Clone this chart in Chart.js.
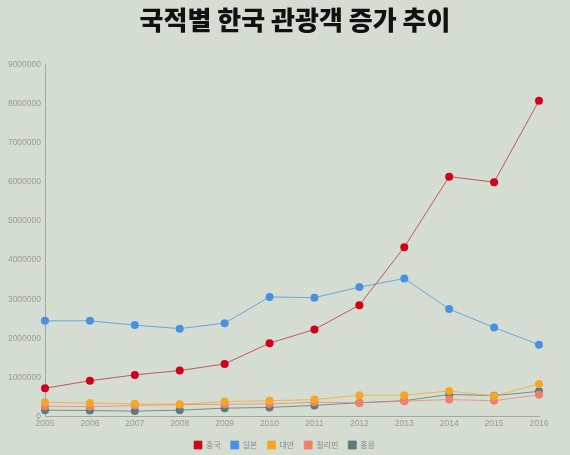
<!DOCTYPE html>
<html>
<head>
<meta charset="utf-8">
<script src="https://cdn.jsdelivr.net/npm/chart.js@4/dist/chart.umd.min.js"></script>
<style>
    html, body { margin: 0; padding: 0; background: #d5ddd2; }
    #wrap { width: 570px; height: 455px; position: relative; }
</style>
</head>
<body>
<div id="wrap"><canvas id="tourChart" width="570" height="455"></canvas></div>
<script>
const years = ['2005','2006','2007','2008','2009','2010','2011','2012','2013','2014','2015','2016']

const china = [730000, 920000, 1070000, 1180000, 1350000, 1880000, 2230000, 2850000, 4330000, 6130000, 5990000, 8070000]
const japan = [2450000, 2450000, 2340000, 2250000, 2390000, 3060000, 3040000, 3310000, 3530000, 2750000, 2280000, 1840000]
const taiwan = [370000, 350000, 330000, 320000, 390000, 410000, 440000, 550000, 550000, 660000, 530000, 840000]
const philippines = [270000, 260000, 290000, 310000, 320000, 330000, 370000, 360000, 400000, 440000, 410000, 560000]
const hongkong = [170000, 160000, 145000, 170000, 220000, 240000, 290000, 360000, 410000, 570000, 540000, 650000]

const yTicks = [0, 1000000, 2000000, 3000000, 4000000, 5000000, 6000000, 7000000, 8000000, 9000000]

const series = [
    { label: '중국', data: china, color: '#d0021b', line: 'rgba(190, 40, 50, 0.75)' },
    { label: '일본', data: japan, color: '#4a90e2', line: 'rgba(74, 144, 226, 0.75)' },
    { label: '대만', data: taiwan, color: '#f5a623', line: 'rgba(245, 166, 35, 0.75)' },
    { label: '필리핀', data: philippines, color: '#f27f6c', line: 'rgba(242, 127, 108, 0.75)' },
    { label: '홍콩', data: hongkong, color: '#5e7b7b', line: 'rgba(94, 123, 123, 0.8)' }
]

const dashBorder = { display: true, color: '#a3a9a1', dash: [2, 3], width: 1 }
const tickFont = { family: 'Arial, "Liberation Sans"', size: 8.5 }

// title and legend sit right of the plot centre in the original
const shiftBlocks = {
    id: 'shiftBlocks',
    afterLayout(chart) {
        if (chart.titleBlock) chart.titleBlock.left += 51
        if (chart.legend) chart.legend.left += 30
    }
}

new Chart(document.getElementById('tourChart'), {
    type: 'line',
    data: {
        labels: years,
        datasets: series.map(s => ({
            label: s.label,
            data: s.data,
            borderColor: s.line,
            backgroundColor: s.color,
            borderWidth: 1,
            pointRadius: 4,
            pointHoverRadius: 4,
            pointBackgroundColor: s.color,
            pointBorderWidth: 0,
            tension: 0,
            fill: false
        }))
    },
    plugins: [shiftBlocks],
    options: {
        responsive: false,
        animation: false,
        layout: { padding: { left: 0, right: 31, top: 0, bottom: -4 } },
        plugins: {
            title: {
                display: true,
                text: '국적별 한국 관광객 증가 추이',
                color: '#111',
                font: { family: '"Noto Sans CJK KR"', size: 26, weight: '900' },
                padding: { top: 5, bottom: 28 }
            },
            legend: {
                position: 'bottom',
                labels: {
                    boxWidth: 8,
                    boxHeight: 8,
                    color: '#888',
                    padding: 10,
                    font: { family: '"Noto Sans CJK KR"', size: 8 }
                }
            },
            tooltip: { enabled: false }
        },
        scales: {
            x: {
                offset: false,
                grid: { display: false, drawTicks: false, tickLength: 0 },
                border: dashBorder,
                ticks: { color: '#999', font: tickFont, padding: 2, maxRotation: 0 }
            },
            y: {
                min: 0,
                max: 9000000,
                afterBuildTicks: axis => { axis.ticks = yTicks.map(v => ({ value: v })) },
                afterFit: axis => { axis.width = 45 },
                grid: { display: false, drawTicks: false, tickLength: 0 },
                border: dashBorder,
                ticks: { color: '#999', font: tickFont, padding: 4, callback: v => String(v) }
            }
        }
    }
})
</script>
</body>
</html>
